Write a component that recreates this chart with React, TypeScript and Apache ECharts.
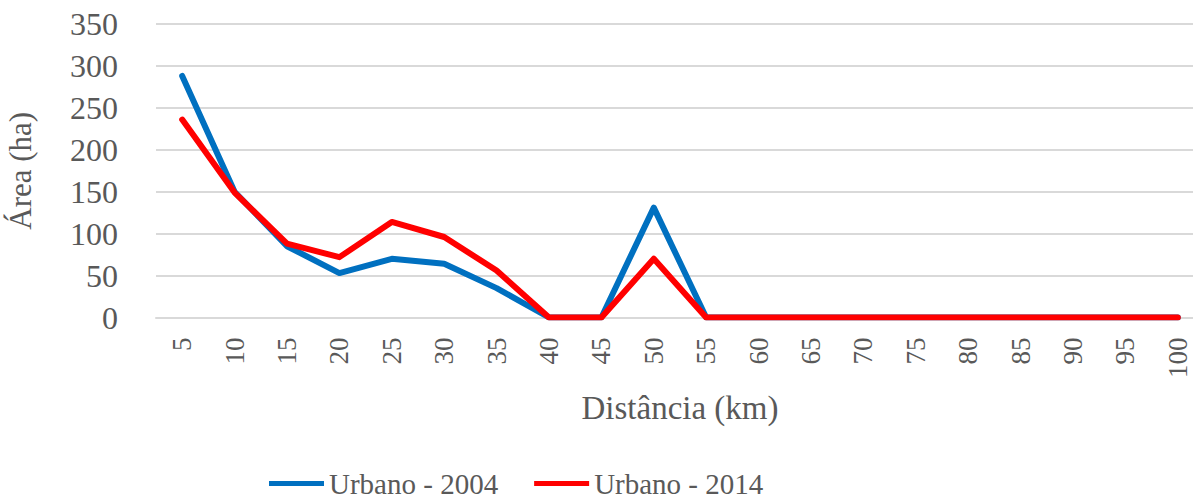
import React, { useEffect, useRef } from "react";
import * as echarts from "echarts";

const categories = ["5","10","15","20","25","30","35","40","45","50","55","60","65","70","75","80","85","90","95","100"];
const urbano2004 = [288, 150, 85, 53, 70, 64, 35, 0, 0, 131, 0, 0, 0, 0, 0, 0, 0, 0, 0, 0];
const urbano2014 = [236, 149, 88, 72, 114, 96, 56, 0, 0, 70, 0, 0, 0, 0, 0, 0, 0, 0, 0, 0];
const yTicks = { min: 0, max: 350, interval: 50 };

const FONT = "Times New Roman, serif";
const TXT = "#595959";

export default function App() {
  const ref = useRef<HTMLDivElement>(null);
  useEffect(() => {
    if (!ref.current) return;
    const chart = echarts.init(ref.current, undefined, { renderer: "svg" });
    chart.setOption({
      animation: false,
      textStyle: { fontFamily: FONT },
      grid: { left: 156, right: -11, top: 24, bottom: 180.5, containLabel: false, outerBoundsMode: "none" },
      legend: {
        left: 264,
        top: 464,
        icon: "rect",
        itemWidth: 55,
        itemHeight: 5,
        itemGap: 36,
        textStyle: { fontFamily: FONT, fontSize: 29, color: TXT },
        data: ["Urbano - 2004", "Urbano - 2014"],
      },
      xAxis: {
        type: "category",
        data: categories,
        boundaryGap: true,
        name: "Distância (km)",
        nameLocation: "middle",
        nameGap: 74,
        nameTextStyle: { fontFamily: FONT, fontSize: 33, color: TXT },
        axisLine: { show: true, lineStyle: { color: "#D9D9D9", width: 2 } },
        axisTick: { show: false },
        axisLabel: { rotate: 90, margin: 20, fontFamily: FONT, fontSize: 27, color: TXT, interval: 0 },
      },
      yAxis: {
        type: "value",
        min: yTicks.min,
        max: yTicks.max,
        interval: yTicks.interval,
        name: "Área (ha)",
        nameLocation: "middle",
        nameRotate: 90,
        nameGap: 120,
        nameTextStyle: { fontFamily: FONT, fontSize: 31, color: TXT },
        axisLine: { show: false },
        axisTick: { show: false },
        splitLine: { lineStyle: { color: "#D9D9D9", width: 2 } },
        axisLabel: { margin: 38, fontFamily: FONT, fontSize: 32, color: TXT },
      },
      series: [
        {
          name: "Urbano - 2004",
          type: "line",
          data: urbano2004,
          symbol: "none",
          lineStyle: { color: "#0070C0", width: 6, cap: "round", join: "round" },
          itemStyle: { color: "#0070C0" },
        },
        {
          name: "Urbano - 2014",
          type: "line",
          data: urbano2014,
          symbol: "none",
          lineStyle: { color: "#FF0000", width: 6, cap: "round", join: "round" },
          itemStyle: { color: "#FF0000" },
        },
      ],
    });
    return () => chart.dispose();
  }, []);
  return (
    <div
      ref={ref}
      style={{ position: "absolute", left: 0, top: 0, width: 1193, height: 498, background: "#fff" }}
    />
  );
}
